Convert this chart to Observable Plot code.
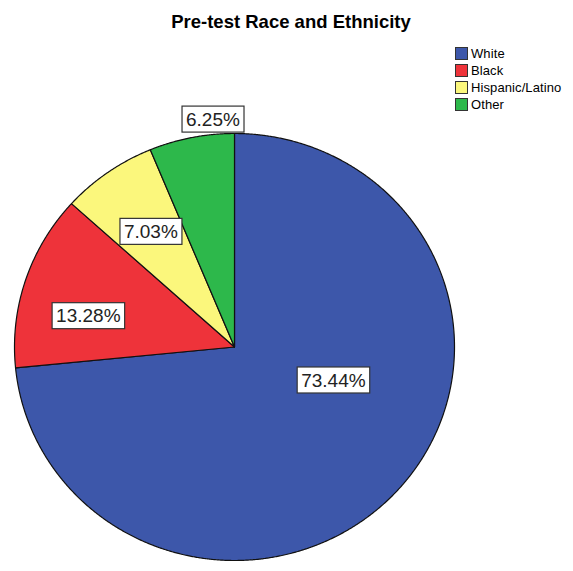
<!DOCTYPE html>
<html>
<head>
<meta charset="utf-8">
<script src="https://cdn.jsdelivr.net/npm/d3@7"></script>
<script src="https://cdn.jsdelivr.net/npm/@observablehq/plot@0.6"></script>
<style>
  html, body { margin: 0; padding: 0; background: #fff; }
  #wrap { position: relative; width: 573px; height: 571px; font-family: "Liberation Sans", Arial, sans-serif; }
  #title { position: absolute; top: 11px; left: 0; width: 582px; text-align: center; font-weight: bold; font-size: 18.5px; color: #000; z-index: 2; }
  #chart { position: absolute; top: 40px; left: 0; z-index: 1; }
  #legend { position: absolute; left: 455px; top: 45px; font-size: 13px; letter-spacing: 0.1px; color: #000; z-index: 3; }
  .row { display: flex; align-items: center; height: 17px; }
  .sw { width: 11px; height: 11px; border: 1px solid #333; margin-right: 3px; box-sizing: content-box; }
</style>
</head>
<body>
<div id="wrap">
  <div id="title">Pre-test Race and Ethnicity</div>
  <div id="chart"></div>
  <div id="legend"></div>
</div>
<script>
const categories = ["White", "Black", "Hispanic/Latino", "Other"];
const percents = [73.44, 13.28, 7.03, 6.25];
const colors = ["#3d57aa", "#ee333a", "#fbf77c", "#2db84b"];
// label placement style: radius fraction and angular shift (degrees) from slice mid-angle
const labelRadius = [0.476, 0.68, 0.66, 1.07];
const labelShift = [-23, -6, 0, 6];

const pie = d3.pie().sort(null).value(d => d.value);
const arcs = pie(categories.map((c, i) => ({cat: c, value: percents[i]})));

const pts = [];
arcs.forEach(a => {
  const c = a.data.cat;
  pts.push({cat: c, x: 0, y: 0});
  const n = Math.max(2, Math.ceil((a.endAngle - a.startAngle) / 0.005));
  for (let k = 0; k <= n; k++) {
    const t = a.startAngle + (a.endAngle - a.startAngle) * k / n;
    pts.push({cat: c, x: Math.sin(t), y: Math.cos(t)});
  }
  pts.push({cat: c, x: 0, y: 0});
});

const labels = arcs.map((a, i) => {
  const m = (a.startAngle + a.endAngle) / 2 + labelShift[i] * Math.PI / 180;
  const r = labelRadius[i];
  return {cat: a.data.cat, x: r * Math.sin(m), y: r * Math.cos(m), text: percents[i].toFixed(2) + "%"};
});

const chart = Plot.plot({
  width: 573,
  height: 531,
  margin: 0,
  x: {domain: [-1, 1], range: [14, 454], axis: null},
  y: {domain: [-1, 1], range: [520, 93], axis: null},
  color: {domain: categories, range: colors},
  style: {fontFamily: "Liberation Sans, Arial, sans-serif", background: "transparent"},
  marks: [
    Plot.line(pts, {x: "x", y: "y", z: "cat", fill: "cat", stroke: "#111", strokeWidth: 1.2, curve: "linear"}),
    Plot.text(labels, {x: "x", y: "y", text: "text", fontSize: 19, fill: "#222", className: "pct"})
  ]
});
document.getElementById("chart").appendChild(chart);

d3.select(chart).selectAll("g.pct text").each(function() {
  const b = this.getBBox();
  const padX = 4, h = 26;
  d3.select(this.parentNode).insert("rect", () => this)
    .attr("x", b.x - padX).attr("y", b.y + b.height / 2 - h / 2)
    .attr("width", b.width + 2 * padX).attr("height", h)
    .attr("fill", "#fff").attr("stroke", "#333").attr("stroke-width", 1.2)
    .attr("transform", this.getAttribute("transform"));
});

const legend = d3.select("#legend");
categories.forEach((c, i) => {
  const row = legend.append("div").attr("class", "row");
  row.append("div").attr("class", "sw").style("background", colors[i]);
  row.append("span").text(c);
});
</script>
</body>
</html>
